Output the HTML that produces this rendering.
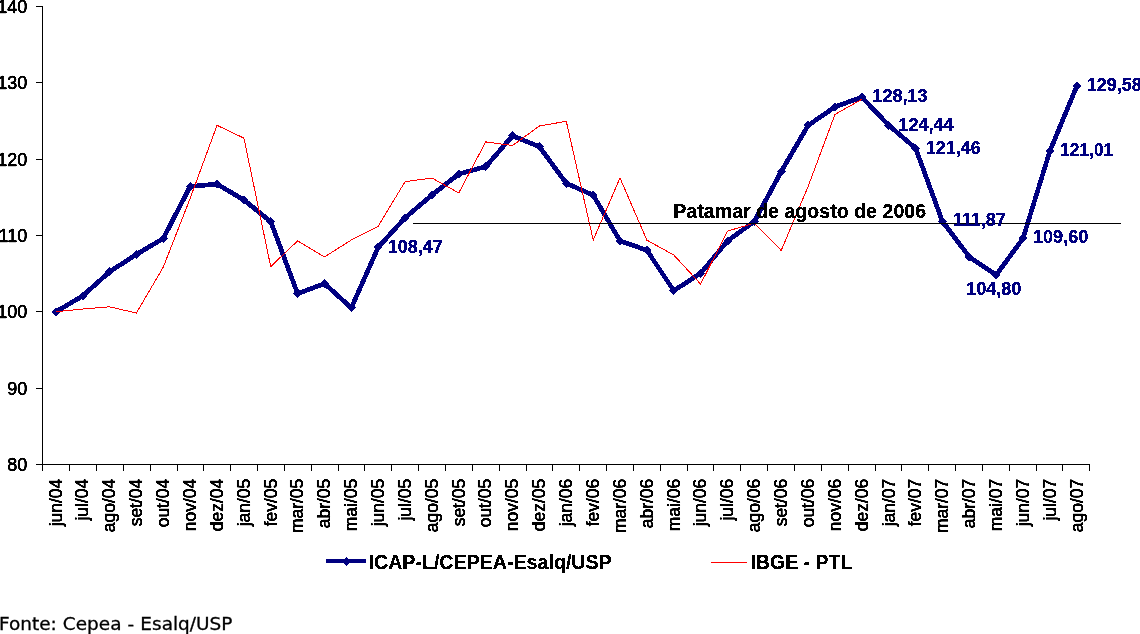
<!DOCTYPE html>
<html lang="pt-BR">
<head>
<meta charset="utf-8">
<title>ICAP-L/CEPEA-Esalq/USP</title>
<style>
html,body{margin:0;padding:0;background:#fff;}
body{width:1140px;height:634px;position:relative;overflow:hidden;font-family:"Liberation Sans",sans-serif;}
svg{position:absolute;left:0;top:0;display:block;}
svg text{font-family:"Liberation Sans",sans-serif;}
.ax{font-size:18px;fill:#000;stroke:#000;stroke-width:0.35px;}
.dl{font-size:18px;font-weight:bold;fill:#000080;stroke:#000080;stroke-width:0.3px;}
.lg{font-size:21px;font-weight:bold;fill:#000;stroke:#000;stroke-width:0.25px;}
.fonte{position:absolute;left:-0.9px;top:613.4px;transform-origin:0 0;transform:scaleX(1.085);margin:0;font-family:"DejaVu Sans",sans-serif;font-size:17px;line-height:22px;color:#000;white-space:nowrap;-webkit-text-stroke:0.3px #000;word-spacing:0.25px;}
</style>
</head>
<body>
<svg width="1140" height="600" viewBox="0 0 1140 600">
<defs>
<filter id="px" x="-5%" y="-20%" width="110%" height="140%" color-interpolation-filters="sRGB">
<feComponentTransfer><feFuncA type="discrete" tableValues="0 1"/></feComponentTransfer>
</filter>
<filter id="px2" x="-5%" y="-20%" width="110%" height="140%" color-interpolation-filters="sRGB">
<feComponentTransfer><feFuncA type="linear" slope="2.2" intercept="-0.35"/></feComponentTransfer>
</filter>
</defs>

<g stroke="#000" stroke-width="1" shape-rendering="crispEdges" fill="none">
<line x1="42.5" y1="6" x2="42.5" y2="465"/>
<line x1="36" y1="464.5" x2="1090" y2="464.5"/>
<line x1="36" y1="6.5" x2="43" y2="6.5"/>
<line x1="36" y1="82.5" x2="43" y2="82.5"/>
<line x1="36" y1="159.5" x2="43" y2="159.5"/>
<line x1="36" y1="235.5" x2="43" y2="235.5"/>
<line x1="36" y1="311.5" x2="43" y2="311.5"/>
<line x1="36" y1="388.5" x2="43" y2="388.5"/>
<line x1="42.5" y1="464" x2="42.5" y2="471"/>
<line x1="69.5" y1="464" x2="69.5" y2="471"/>
<line x1="96.5" y1="464" x2="96.5" y2="471"/>
<line x1="123.5" y1="464" x2="123.5" y2="471"/>
<line x1="150.5" y1="464" x2="150.5" y2="471"/>
<line x1="177.5" y1="464" x2="177.5" y2="471"/>
<line x1="203.5" y1="464" x2="203.5" y2="471"/>
<line x1="230.5" y1="464" x2="230.5" y2="471"/>
<line x1="257.5" y1="464" x2="257.5" y2="471"/>
<line x1="284.5" y1="464" x2="284.5" y2="471"/>
<line x1="311.5" y1="464" x2="311.5" y2="471"/>
<line x1="338.5" y1="464" x2="338.5" y2="471"/>
<line x1="364.5" y1="464" x2="364.5" y2="471"/>
<line x1="391.5" y1="464" x2="391.5" y2="471"/>
<line x1="418.5" y1="464" x2="418.5" y2="471"/>
<line x1="445.5" y1="464" x2="445.5" y2="471"/>
<line x1="472.5" y1="464" x2="472.5" y2="471"/>
<line x1="499.5" y1="464" x2="499.5" y2="471"/>
<line x1="526.5" y1="464" x2="526.5" y2="471"/>
<line x1="552.5" y1="464" x2="552.5" y2="471"/>
<line x1="579.5" y1="464" x2="579.5" y2="471"/>
<line x1="606.5" y1="464" x2="606.5" y2="471"/>
<line x1="633.5" y1="464" x2="633.5" y2="471"/>
<line x1="660.5" y1="464" x2="660.5" y2="471"/>
<line x1="687.5" y1="464" x2="687.5" y2="471"/>
<line x1="713.5" y1="464" x2="713.5" y2="471"/>
<line x1="740.5" y1="464" x2="740.5" y2="471"/>
<line x1="767.5" y1="464" x2="767.5" y2="471"/>
<line x1="794.5" y1="464" x2="794.5" y2="471"/>
<line x1="821.5" y1="464" x2="821.5" y2="471"/>
<line x1="848.5" y1="464" x2="848.5" y2="471"/>
<line x1="875.5" y1="464" x2="875.5" y2="471"/>
<line x1="901.5" y1="464" x2="901.5" y2="471"/>
<line x1="928.5" y1="464" x2="928.5" y2="471"/>
<line x1="955.5" y1="464" x2="955.5" y2="471"/>
<line x1="982.5" y1="464" x2="982.5" y2="471"/>
<line x1="1009.5" y1="464" x2="1009.5" y2="471"/>
<line x1="1036.5" y1="464" x2="1036.5" y2="471"/>
<line x1="1062.5" y1="464" x2="1062.5" y2="471"/>
<line x1="1089.5" y1="464" x2="1089.5" y2="471"/>
</g>
<g class="ax" text-anchor="end" filter="url(#px2)">
<text x="27.3" y="12.9">140</text>
<text x="27.3" y="89.3">130</text>
<text x="27.3" y="165.6">120</text>
<text x="27.3" y="241.9">110</text>
<text x="27.3" y="318.3">100</text>
<text x="27.3" y="394.6">90</text>
<text x="27.3" y="470.9">80</text>
</g>
<g class="ax" text-anchor="end" filter="url(#px2)">
<text transform="translate(61.5 478.8) rotate(-90) scale(0.97 1)" x="0" y="0">jun/04</text>
<text transform="translate(87.5 478.8) rotate(-90) scale(0.97 1)" x="0" y="0">jul/04</text>
<text transform="translate(114.5 478.8) rotate(-90) scale(0.97 1)" x="0" y="0">ago/04</text>
<text transform="translate(141.5 478.8) rotate(-90) scale(0.97 1)" x="0" y="0">set/04</text>
<text transform="translate(168.5 478.8) rotate(-90) scale(0.97 1)" x="0" y="0">out/04</text>
<text transform="translate(195.5 478.8) rotate(-90) scale(0.97 1)" x="0" y="0">nov/04</text>
<text transform="translate(222.5 478.8) rotate(-90) scale(0.97 1)" x="0" y="0">dez/04</text>
<text transform="translate(249.5 478.8) rotate(-90) scale(0.97 1)" x="0" y="0">jan/05</text>
<text transform="translate(276.5 478.8) rotate(-90) scale(0.97 1)" x="0" y="0">fev/05</text>
<text transform="translate(302.5 478.8) rotate(-90) scale(0.97 1)" x="0" y="0">mar/05</text>
<text transform="translate(329.5 478.8) rotate(-90) scale(0.97 1)" x="0" y="0">abr/05</text>
<text transform="translate(356.5 478.8) rotate(-90) scale(0.97 1)" x="0" y="0">mai/05</text>
<text transform="translate(383.5 478.8) rotate(-90) scale(0.97 1)" x="0" y="0">jun/05</text>
<text transform="translate(410.5 478.8) rotate(-90) scale(0.97 1)" x="0" y="0">jul/05</text>
<text transform="translate(437.5 478.8) rotate(-90) scale(0.97 1)" x="0" y="0">ago/05</text>
<text transform="translate(464.5 478.8) rotate(-90) scale(0.97 1)" x="0" y="0">set/05</text>
<text transform="translate(490.5 478.8) rotate(-90) scale(0.97 1)" x="0" y="0">out/05</text>
<text transform="translate(517.5 478.8) rotate(-90) scale(0.97 1)" x="0" y="0">nov/05</text>
<text transform="translate(544.5 478.8) rotate(-90) scale(0.97 1)" x="0" y="0">dez/05</text>
<text transform="translate(571.5 478.8) rotate(-90) scale(0.97 1)" x="0" y="0">jan/06</text>
<text transform="translate(598.5 478.8) rotate(-90) scale(0.97 1)" x="0" y="0">fev/06</text>
<text transform="translate(625.5 478.8) rotate(-90) scale(0.97 1)" x="0" y="0">mar/06</text>
<text transform="translate(652.5 478.8) rotate(-90) scale(0.97 1)" x="0" y="0">abr/06</text>
<text transform="translate(679.5 478.8) rotate(-90) scale(0.97 1)" x="0" y="0">mai/06</text>
<text transform="translate(705.5 478.8) rotate(-90) scale(0.97 1)" x="0" y="0">jun/06</text>
<text transform="translate(732.5 478.8) rotate(-90) scale(0.97 1)" x="0" y="0">jul/06</text>
<text transform="translate(759.5 478.8) rotate(-90) scale(0.97 1)" x="0" y="0">ago/06</text>
<text transform="translate(786.5 478.8) rotate(-90) scale(0.97 1)" x="0" y="0">set/06</text>
<text transform="translate(813.5 478.8) rotate(-90) scale(0.97 1)" x="0" y="0">out/06</text>
<text transform="translate(840.5 478.8) rotate(-90) scale(0.97 1)" x="0" y="0">nov/06</text>
<text transform="translate(867.5 478.8) rotate(-90) scale(0.97 1)" x="0" y="0">dez/06</text>
<text transform="translate(894.5 478.8) rotate(-90) scale(0.97 1)" x="0" y="0">jan/07</text>
<text transform="translate(920.5 478.8) rotate(-90) scale(0.97 1)" x="0" y="0">fev/07</text>
<text transform="translate(947.5 478.8) rotate(-90) scale(0.97 1)" x="0" y="0">mar/07</text>
<text transform="translate(974.5 478.8) rotate(-90) scale(0.97 1)" x="0" y="0">abr/07</text>
<text transform="translate(1001.5 478.8) rotate(-90) scale(0.97 1)" x="0" y="0">mai/07</text>
<text transform="translate(1028.5 478.8) rotate(-90) scale(0.97 1)" x="0" y="0">jun/07</text>
<text transform="translate(1055.5 478.8) rotate(-90) scale(0.97 1)" x="0" y="0">jul/07</text>
<text transform="translate(1082.5 478.8) rotate(-90) scale(0.97 1)" x="0" y="0">ago/07</text>
</g>
<polyline points="55.8,311.8 82.7,295.9 109.5,271.8 136.4,254.5 163.3,238.4 190.1,186.5 217.0,184.0 243.9,200.0 270.7,221.5 297.6,293.6 324.5,283.6 351.3,307.8 378.2,247.3 405.1,217.8 432.0,195.0 458.8,174.0 485.7,166.6 512.6,135.8 539.4,146.7 566.3,183.3 593.2,195.2 620.0,240.8 646.9,250.3 673.8,290.7 700.6,273.3 727.5,241.0 754.4,221.3 781.2,171.6 808.1,125.4 835.0,106.9 861.8,97.1 888.7,125.3 915.6,148.3 942.4,221.3 969.3,256.9 996.2,275.0 1023.0,238.4 1049.9,151.0 1076.8,86.1" fill="none" stroke="#000080" stroke-width="4.7" stroke-linejoin="round" stroke-linecap="round" shape-rendering="crispEdges"/>
<g fill="#000080" shape-rendering="crispEdges">
<path d="M55.8 307.3L60.3 311.8L55.8 316.3L51.3 311.8Z"/>
<path d="M82.7 291.4L87.2 295.9L82.7 300.4L78.2 295.9Z"/>
<path d="M109.5 267.3L114.0 271.8L109.5 276.3L105.0 271.8Z"/>
<path d="M136.4 250.0L140.9 254.5L136.4 259.0L131.9 254.5Z"/>
<path d="M163.3 233.9L167.8 238.4L163.3 242.9L158.8 238.4Z"/>
<path d="M190.1 182.0L194.6 186.5L190.1 191.0L185.6 186.5Z"/>
<path d="M217.0 179.5L221.5 184.0L217.0 188.5L212.5 184.0Z"/>
<path d="M243.9 195.5L248.4 200.0L243.9 204.5L239.4 200.0Z"/>
<path d="M270.7 217.0L275.2 221.5L270.7 226.0L266.2 221.5Z"/>
<path d="M297.6 289.1L302.1 293.6L297.6 298.1L293.1 293.6Z"/>
<path d="M324.5 279.1L329.0 283.6L324.5 288.1L320.0 283.6Z"/>
<path d="M351.3 303.3L355.8 307.8L351.3 312.3L346.8 307.8Z"/>
<path d="M378.2 242.8L382.7 247.3L378.2 251.8L373.7 247.3Z"/>
<path d="M405.1 213.3L409.6 217.8L405.1 222.3L400.6 217.8Z"/>
<path d="M432.0 190.5L436.5 195.0L432.0 199.5L427.5 195.0Z"/>
<path d="M458.8 169.5L463.3 174.0L458.8 178.5L454.3 174.0Z"/>
<path d="M485.7 162.1L490.2 166.6L485.7 171.1L481.2 166.6Z"/>
<path d="M512.6 131.3L517.1 135.8L512.6 140.3L508.1 135.8Z"/>
<path d="M539.4 142.2L543.9 146.7L539.4 151.2L534.9 146.7Z"/>
<path d="M566.3 178.8L570.8 183.3L566.3 187.8L561.8 183.3Z"/>
<path d="M593.2 190.7L597.7 195.2L593.2 199.7L588.7 195.2Z"/>
<path d="M620.0 236.3L624.5 240.8L620.0 245.3L615.5 240.8Z"/>
<path d="M646.9 245.8L651.4 250.3L646.9 254.8L642.4 250.3Z"/>
<path d="M673.8 286.2L678.3 290.7L673.8 295.2L669.3 290.7Z"/>
<path d="M700.6 268.8L705.1 273.3L700.6 277.8L696.1 273.3Z"/>
<path d="M727.5 236.5L732.0 241.0L727.5 245.5L723.0 241.0Z"/>
<path d="M754.4 216.8L758.9 221.3L754.4 225.8L749.9 221.3Z"/>
<path d="M781.2 167.1L785.7 171.6L781.2 176.1L776.7 171.6Z"/>
<path d="M808.1 120.9L812.6 125.4L808.1 129.9L803.6 125.4Z"/>
<path d="M835.0 102.4L839.5 106.9L835.0 111.4L830.5 106.9Z"/>
<path d="M861.8 92.6L866.3 97.1L861.8 101.6L857.3 97.1Z"/>
<path d="M888.7 120.8L893.2 125.3L888.7 129.8L884.2 125.3Z"/>
<path d="M915.6 143.8L920.1 148.3L915.6 152.8L911.1 148.3Z"/>
<path d="M942.4 216.8L946.9 221.3L942.4 225.8L937.9 221.3Z"/>
<path d="M969.3 252.4L973.8 256.9L969.3 261.4L964.8 256.9Z"/>
<path d="M996.2 270.5L1000.7 275.0L996.2 279.5L991.7 275.0Z"/>
<path d="M1023.0 233.9L1027.5 238.4L1023.0 242.9L1018.5 238.4Z"/>
<path d="M1049.9 146.5L1054.4 151.0L1049.9 155.5L1045.4 151.0Z"/>
<path d="M1076.8 81.6L1081.3 86.1L1076.8 90.6L1072.3 86.1Z"/>
</g>
<polyline points="55.8,311.8 82.7,309.0 109.5,306.8 136.4,313.0 163.3,267.1 190.1,198.5 217.0,125.3 243.9,138.1 270.7,266.6 297.6,240.9 324.5,256.9 351.3,240.0 378.2,226.2 405.1,181.6 432.0,178.1 458.8,192.9 485.7,141.9 512.6,145.5 539.4,126.0 566.3,121.3 593.2,240.1 620.0,178.0 646.9,240.2 673.8,255.0 700.6,284.1 727.5,231.1 754.4,223.1 781.2,250.5 808.1,186.5 835.0,114.4 861.8,99.3" fill="none" stroke="#ff0000" stroke-width="1" stroke-linejoin="miter" shape-rendering="crispEdges"/>
<line x1="413" y1="223.5" x2="1121" y2="223.5" stroke="#000" stroke-width="1" shape-rendering="crispEdges"/>
<g class="lg" filter="url(#px)">
<text x="673.3" y="217.8" textLength="252.8" lengthAdjust="spacingAndGlyphs">Patamar de agosto de 2006</text>
</g>
<g class="dl" filter="url(#px)">
<text x="387.7" y="252.6">108,47</text>
<text x="872.5" y="101.8">128,13</text>
<text x="898.5" y="130.8">124,44</text>
<text x="925.7" y="153.6">121,46</text>
<text x="952.7" y="226.0">111,87</text>
<text x="1033.1" y="243.0">109,60</text>
<text x="966.2" y="295.0">104,80</text>
<text x="1060.1" y="156.0" textLength="53.2" lengthAdjust="spacingAndGlyphs">121,01</text>
<text x="1086.7" y="91.2">129,58</text>
</g>
<line x1="326" y1="561" x2="366" y2="561" stroke="#000080" stroke-width="4" shape-rendering="crispEdges"/>
<path d="M346.3 556.9L350.9 561.5L346.3 566.1L341.7 561.5Z" fill="#000080" shape-rendering="crispEdges"/>
<g class="lg" filter="url(#px)">
<text x="368.5" y="568.9" textLength="243.2" lengthAdjust="spacingAndGlyphs">ICAP-L/CEPEA-Esalq/USP</text>
<text x="750.5" y="568.9" textLength="101.8" lengthAdjust="spacingAndGlyphs">IBGE - PTL</text>
</g>
<line x1="711" y1="562.5" x2="747" y2="562.5" stroke="#ff0000" stroke-width="1" shape-rendering="crispEdges"/>
</svg>
<p class="fonte">Fonte: Cepea - Esalq/USP</p>
</body>
</html>
